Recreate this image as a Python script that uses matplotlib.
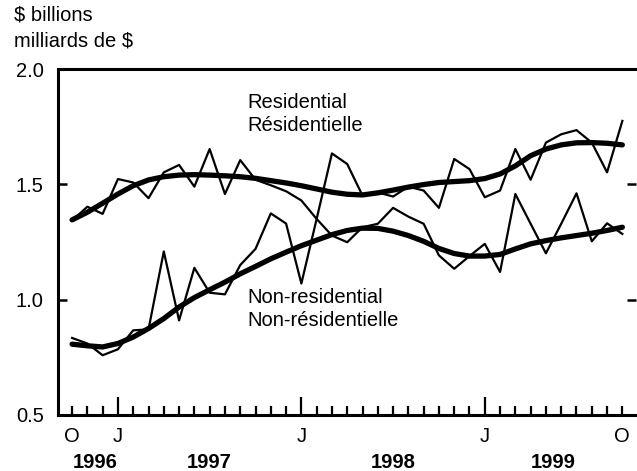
import numpy as np
from matplotlib import pyplot as plt

plt.rcParams['font.family'] = ['Liberation Sans', 'DejaVu Sans']

# monthly, Oct 1996 .. Oct 1999
months = np.arange(37)

residential = [1.343, 1.403, 1.372, 1.523, 1.508, 1.44, 1.552, 1.584, 1.49, 1.653,
               1.458, 1.605, 1.52, 1.496, 1.47, 1.43, 1.35, 1.634, 1.588, 1.451,
               1.465, 1.447, 1.49, 1.473, 1.398, 1.61, 1.566, 1.444, 1.473, 1.653,
               1.52, 1.681, 1.717, 1.735, 1.681, 1.552, 1.775]
residential_trend = [1.346, 1.379, 1.418, 1.458, 1.494, 1.519, 1.533, 1.54, 1.542, 1.54,
                     1.537, 1.533, 1.526, 1.516, 1.506, 1.494, 1.48, 1.466, 1.457, 1.454,
                     1.463, 1.475, 1.488, 1.499, 1.508, 1.512, 1.516, 1.525, 1.545, 1.58,
                     1.624, 1.653, 1.671, 1.68, 1.681, 1.678, 1.671]

nonres = [0.834, 0.81, 0.759, 0.785, 0.867, 0.871, 1.209, 0.91, 1.138, 1.03,
          1.023, 1.15, 1.22, 1.374, 1.33, 1.07, 1.35, 1.278, 1.249, 1.314,
          1.329, 1.398, 1.36, 1.329, 1.192, 1.134, 1.189, 1.242, 1.12, 1.458,
          1.329, 1.201, 1.329, 1.461, 1.253, 1.331, 1.285]
nonres_trend = [0.807, 0.8, 0.795, 0.81, 0.838, 0.875, 0.918, 0.968, 1.009, 1.043,
                1.076, 1.112, 1.144, 1.177, 1.206, 1.234, 1.258, 1.282, 1.3, 1.31,
                1.309, 1.297, 1.278, 1.253, 1.222, 1.2, 1.189, 1.189, 1.196, 1.22,
                1.242, 1.256, 1.268, 1.278, 1.288, 1.3, 1.314]

month_labels = {0: 'O', 3: 'J', 15: 'J', 27: 'J', 36: 'O'}
year_labels = {1.5: '1996', 9: '1997', 21: '1998', 31.5: '1999'}

fig = plt.figure(figsize=(6.37, 4.71), dpi=100)
ax = fig.add_axes([0.0906, 0.1189, 0.908, 0.7346])

ax.plot(months, residential, color='black', lw=1.6)
ax.plot(months, nonres, color='black', lw=1.6)
ax.plot(months, residential_trend, color='black', lw=3.8, solid_capstyle='round')
ax.plot(months, nonres_trend, color='black', lw=3.8, solid_capstyle='round')

ax.set_xlim(-0.94, 36.9)
ax.set_ylim(0.5, 2.0)

ax.spines['right'].set_visible(False)
for s in ['left', 'top', 'bottom']:
    ax.spines[s].set_linewidth(2.2)

ax.set_yticks([0.5, 1.0, 1.5, 2.0])
ax.set_yticklabels(['0.5', '1.0', '1.5', '2.0'], fontsize=14.5)
ax.tick_params(axis='y', direction='in', length=6.5, width=1.8, pad=10,
               right=True, left=True)

ax.set_xticks([3, 15, 27])
ax.set_xticks(months, minor=True)
ax.set_xticklabels([])
ax.tick_params(axis='x', which='major', direction='in', length=13, width=1.6)
ax.tick_params(axis='x', which='minor', direction='in', length=6.5, width=1.6)

tr = ax.get_xaxis_transform()
for m, lab in month_labels.items():
    ax.text(m, -0.063, lab, transform=tr, ha='center', va='center', fontsize=14.5)
for m, lab in year_labels.items():
    ax.text(m, -0.138, lab, transform=tr, ha='center', va='center',
            fontsize=14.5, fontweight='bold')

ax.text(11.5, 1.804, 'Residential\nRésidentielle', ha='left', va='center',
        fontsize=14.5, linespacing=1.25)
ax.text(11.45, 0.96, 'Non-residential\nNon-résidentielle', ha='left', va='center',
        fontsize=14.5, linespacing=1.25)

fig.text(14 / 637, 1 - 15 / 471, '$ billions', ha='left', va='center', fontsize=14.5)
fig.text(14 / 637, 1 - 41 / 471, 'milliards de $', ha='left', va='center', fontsize=14.5)

plt.savefig('out.png', dpi=100)
